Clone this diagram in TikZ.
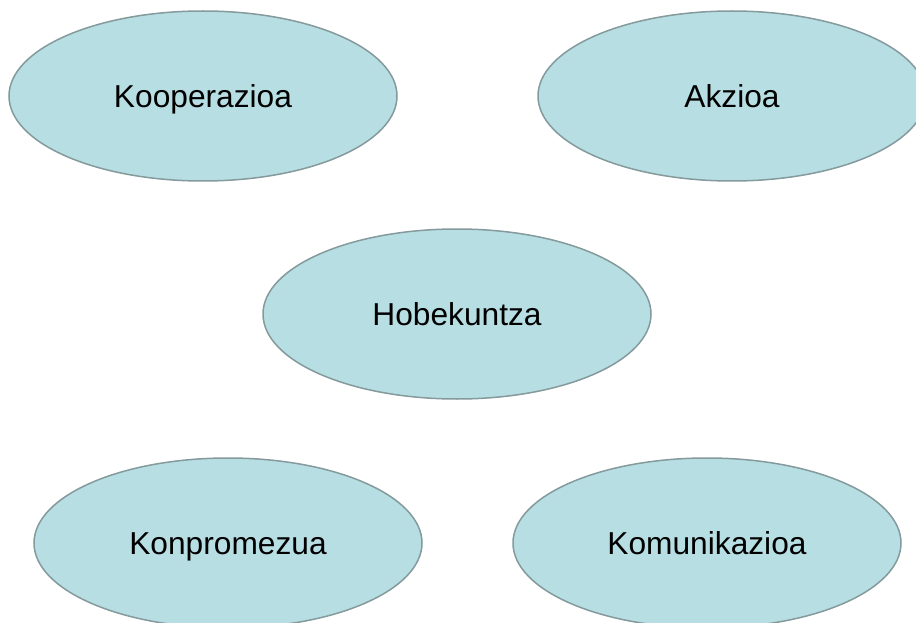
\documentclass[tikz,border=0pt]{standalone}
\usepackage{fontspec}
\setmainfont{Liberation Sans}
\usetikzlibrary{shapes.geometric}
\definecolor{blobfill}{HTML}{B7DEE3}
\definecolor{blobline}{HTML}{849A9C}
\begin{document}
\begin{tikzpicture}[x=1pt,y=-1pt,
        blob/.style={ellipse, draw=blobline, fill=blobfill, line width=1.5pt,
            minimum width=388pt, minimum height=170pt, inner sep=0pt,
            font=\fontsize{31.7}{36}\selectfont, text height=22.7pt, text depth=0pt}]
                \useasboundingbox (0,0) rectangle (916,623);
                \clip (0,0) rectangle (916,623);

                \node[blob] (koop) at (203,96) {Kooperazioa};
                \node[blob] (akz) at (732,96) {Akzioa};
                \node[blob] (hob) at (457,314) {Hobekuntza};
                \node[blob] (konp) at (228,543) {Konpromezua};
                \node[blob] (komu) at (707,543) {Komunikazioa};
            \end{tikzpicture}
\end{document}
